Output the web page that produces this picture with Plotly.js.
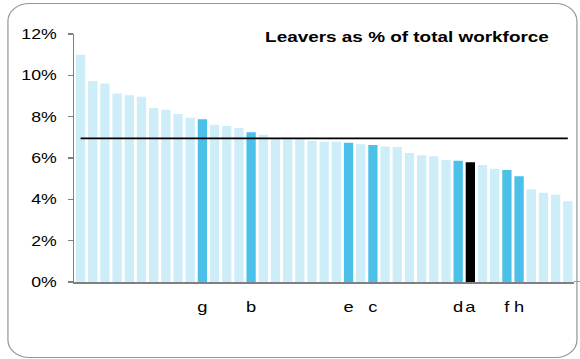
<!DOCTYPE html>
<html>
<head>
<meta charset="utf-8">
<script src="https://cdn.plot.ly/plotly-3.0.1.min.js"></script>
<style>
  html, body { margin: 0; padding: 0; background: #ffffff; overflow: hidden; }
  #wrap { position: absolute; left: 0; top: 0; width: 475px; height: 359px;
          transform: scaleX(1.22105); transform-origin: 0 0; }
  #chart { position: absolute; left: 0; top: 0; width: 475px; height: 359px; }
  #card { position: absolute; left: 5.7px; top: 3px; width: 467.5px; height: 355px;
          border: 1.6px solid #959595; border-radius: 18px; pointer-events: none; box-sizing: border-box; }
</style>
</head>
<body>
<div id="wrap">
  <div id="chart"></div>
  <div id="card"></div>
</div>
<script>
// Leavers as % of total workforce, one bar per organisation (sorted)
const values = [11.0, 9.73, 9.60, 9.12, 9.04, 8.96, 8.42, 8.33, 8.13, 7.95,
                7.87, 7.61, 7.55, 7.45, 7.24, 7.13, 6.92, 6.91, 6.91, 6.83,
                6.79, 6.79, 6.74, 6.66, 6.63, 6.56, 6.53, 6.24, 6.13, 6.09,
                5.90, 5.87, 5.80, 5.66, 5.48, 5.42, 5.12, 4.49, 4.32, 4.22, 3.91];
const labels = ['', '', '', '', '', '', '', '', '', '',
                'g', '', '', '', 'b', '', '', '', '', '',
                '', '', 'e', '', 'c', '', '', '', '', '',
                '', 'd', 'a', '', '', 'f', 'h', '', '', '', ''];
const averageValue = 6.95;
const yTickVals = [0, 2, 4, 6, 8, 10, 12];
const yTickText = ['0%', '2%', '4%', '6%', '8%', '10%', '12%'];
const chartTitle = 'Leavers as % of total workforce';

const LIGHT = '#CDEDF9', MID = '#4BC1EA', SELF = '#000000';
const xs = values.map((v, i) => i);
const colors = labels.map(l => l === 'a' ? SELF : (l !== '' ? MID : LIGHT));
const tickVals = xs.filter(i => labels[i] !== '');
const tickText = tickVals.map(i => labels[i]);

const font = 'Arial, "Liberation Sans", sans-serif';

const traces = [
  { type: 'bar', x: xs, y: values, marker: { color: colors, line: { width: 0 } },
    hoverinfo: 'skip', showlegend: false },
  { type: 'scatter', mode: 'lines', x: [xs[0], xs[xs.length - 1]],
    y: [averageValue, averageValue], line: { color: '#000000', width: 1.8 },
    hoverinfo: 'skip', showlegend: false }
];

const layout = {
  width: 475, height: 359,
  margin: { l: 61, r: 5, t: 34, b: 77, pad: 0 },
  paper_bgcolor: 'rgba(0,0,0,0)', plot_bgcolor: 'rgba(0,0,0,0)',
  bargap: 0.237,
  font: { family: font, color: '#000000' },
  xaxis: {
    range: [-0.5, values.length - 0.5], tickmode: 'array',
    tickvals: tickVals, ticktext: tickText, ticks: '', tickangle: 0,
    showgrid: false, zeroline: false, showline: true,
    linecolor: '#808080', linewidth: 1.6,
    tickfont: { family: font, size: 15, color: '#000000' },
    ticklabelstandoff: 10
  },
  yaxis: {
    range: [0, 12], tickmode: 'array', tickvals: yTickVals, ticktext: yTickText,
    ticks: 'outside', ticklen: 4.3, tickwidth: 1.1, tickcolor: '#808080',
    showgrid: false, zeroline: false, showline: true,
    linecolor: '#808080', linewidth: 1.3,
    tickfont: { family: font, size: 14.5, color: '#000000' },
    ticklabelstandoff: 6
  },
  shapes: [{
    type: 'line', xref: 'paper', yref: 'y', x0: 1, x1: 1.013, y0: 0, y1: 0,
    line: { color: '#808080', width: 1.6 }
  }],
  annotations: [{
    text: '<b>' + chartTitle + '</b>', xref: 'paper', yref: 'paper',
    x: 0.667, y: 0.989, xanchor: 'center', yanchor: 'middle', showarrow: false,
    font: { family: font, size: 15.5, color: '#000000' }
  }]
};

Plotly.newPlot('chart', traces, layout, { staticPlot: true, displayModeBar: false });
</script>
</body>
</html>
